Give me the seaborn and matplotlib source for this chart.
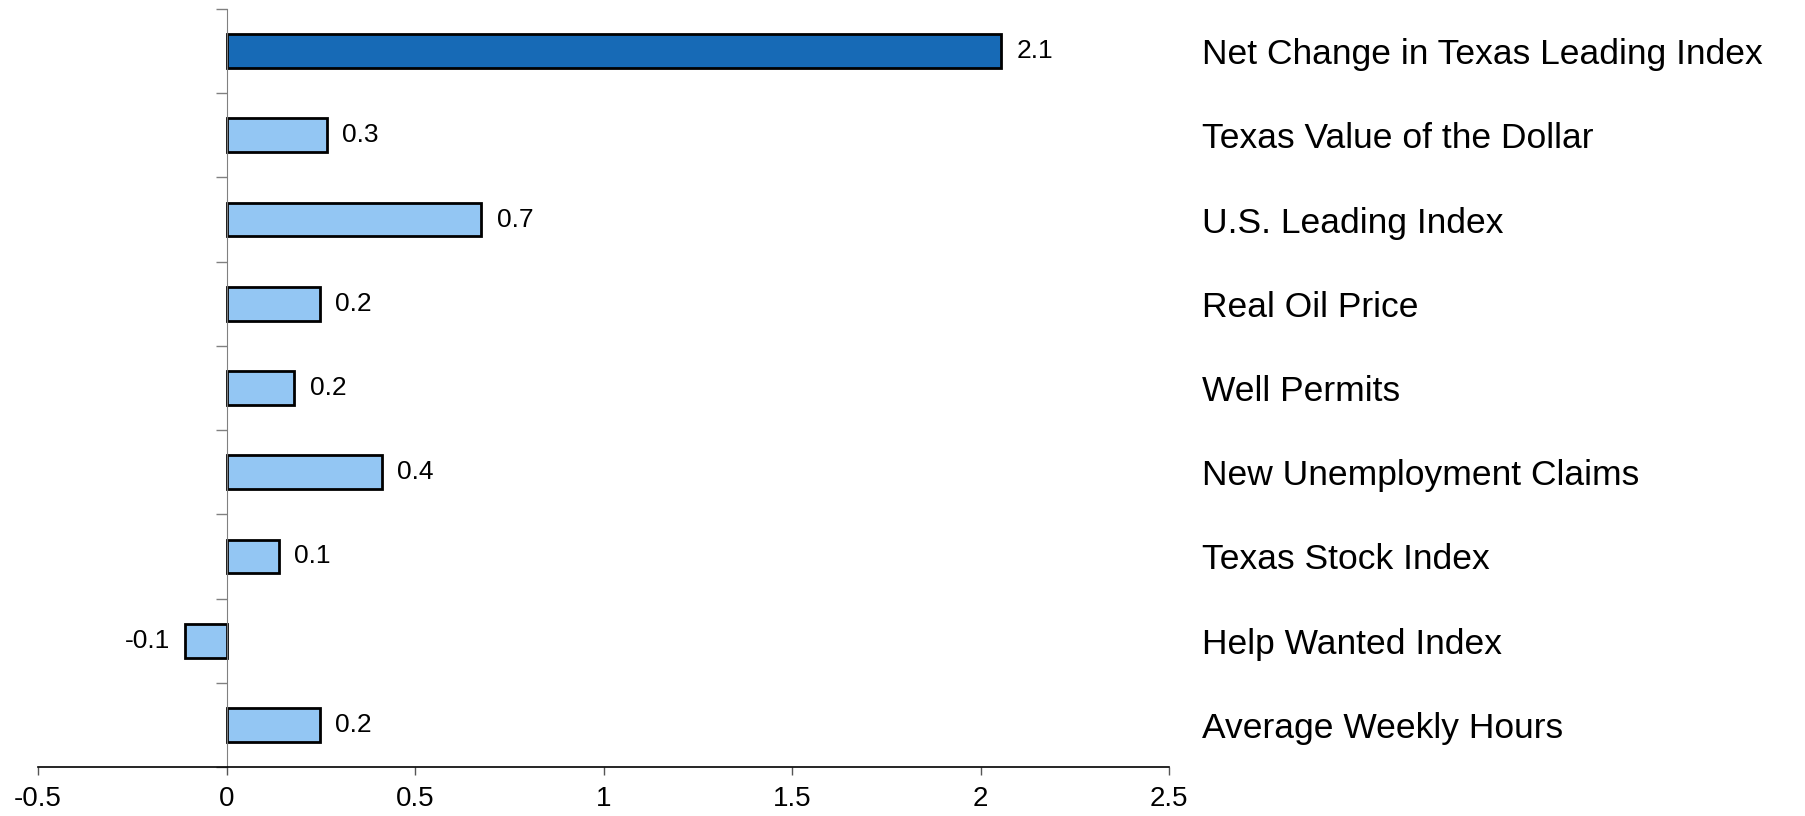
import numpy as np
import pandas as pd
import seaborn as sns
import matplotlib.pyplot as plt

# values
categories = [
    "Net Change in Texas Leading Index",
    "Texas Value of the Dollar",
    "U.S. Leading Index",
    "Real Oil Price",
    "Well Permits",
    "New Unemployment Claims",
    "Texas Stock Index",
    "Help Wanted Index",
    "Average Weekly Hours",
]
values = [2.055, 0.266, 0.676, 0.248, 0.18, 0.413, 0.138, -0.11, 0.248]
colors = ["#176ab6"] + ["#93c6f3"] * 8

df = pd.DataFrame({"category": categories, "value": values})

sns.set_style("white")
plt.rcParams["font.family"] = ["Liberation Sans", "DejaVu Sans"]
plt.rcParams["text.color"] = "black"
plt.rcParams["xtick.labelcolor"] = "black"
plt.rcParams["ytick.labelcolor"] = "black"

fig = plt.figure(figsize=(18.06, 8.16), dpi=100)
ax = fig.add_axes([38 / 1806, 1 - 767 / 816, (1169 - 38) / 1806, (767 - 9) / 816])

sns.barplot(data=df, x="value", y="category", hue="category",
            palette=dict(zip(categories, colors)), legend=False,
            orient="h", width=0.4, edgecolor="black", linewidth=2,
            saturation=1, ax=ax)

for c in ax.containers:
    ax.bar_label(c, fmt="%.1f", padding=11, fontsize=19, color="black")

ax.set_xlim(-0.5, 2.5)
ax.set_ylim(len(categories) - 0.5, -0.5)
ax.set_xticks([-0.5, 0, 0.5, 1, 1.5, 2, 2.5])
ax.set_xticklabels(["-0.5", "0", "0.5", "1", "1.5", "2", "2.5"])
ax.set_xlabel("")
ax.set_ylabel("")

# y spine sits at zero with ticks between categories, names on the right
ax.spines["left"].set_position(("data", 0))
ax.spines["left"].set_color("#808080")
ax.spines["right"].set_visible(False)
ax.spines["top"].set_visible(False)
ax.spines["bottom"].set_color("black")
ax.spines["bottom"].set_linewidth(1.2)

ax.set_yticks(np.arange(-0.5, len(categories), 1.0), minor=True)
ax.tick_params(axis="y", which="major", left=False, right=False,
               labelleft=False, labelright=True, labelsize=25.5, pad=20,
               labelcolor="black")
ax.tick_params(axis="y", which="minor", left=True, length=8,
               width=1, color="#808080", direction="out")
ax.tick_params(axis="x", which="major", bottom=True, length=6, width=1,
               color="#555555", direction="out", labelsize=20, pad=8,
               labelcolor="black")

fig.savefig("out.png", dpi=100)
